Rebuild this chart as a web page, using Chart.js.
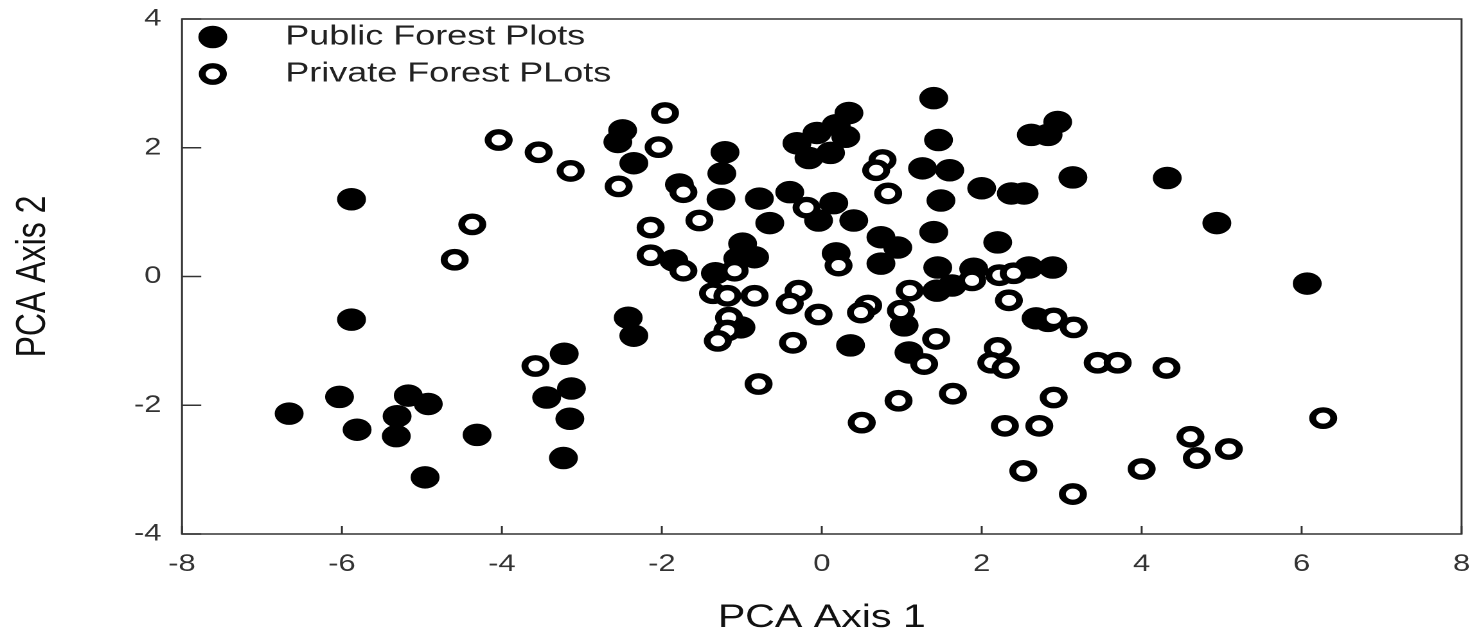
<!DOCTYPE html>
<html>
<head>
<meta charset="utf-8">
<script src="https://cdn.jsdelivr.net/npm/chart.js@4/dist/chart.umd.min.js"></script>
<style>
  html, body { margin: 0; padding: 0; background: #fff; overflow: hidden; }
  #wrap { width: 1473px; height: 634px; overflow: hidden; }
  /* the source picture is stretched sideways, so draw narrow and stretch */
  #pca { transform: scaleX(1.285); transform-origin: 0 0; }
</style>
</head>
<body>
<div id="wrap"><canvas id="pca" width="1151" height="634"></canvas></div>
<script>
const seriesNames = ["Public Forest Plots", "Private Forest PLots"];

const publicX = [-6.66, -6.03, -5.88, -5.88, -5.81, -5.17, -4.92, -5.31, -5.32, -4.31, -4.96,
  -3.22, -3.13, -3.44, -3.15, -3.23,
  -2.42, -2.35, -2.49, -2.55, -2.35, -1.78, -1.85,
  -1.21, -1.25, -1.26, -0.78, -0.40, -0.65, -0.99, -0.84, -1.05, -1.33,
  -0.31, -0.16, -0.06, 0.11, 0.18, 0.30, 0.34,
  1.40, 1.46, 1.26, 1.60, 1.49, 2.00, 2.37, 2.53, 2.62, 2.83, 2.95, 3.14, 4.32, 4.94, 6.07,
  0.15, -0.04, 0.40, 0.74, 0.95, 1.40, 2.20, 0.18, 0.74, 1.45, 1.90, 2.59, 2.89, 1.44, 1.63,
  1.03, 1.09, 0.36, -1.01, 2.68, 2.83];
const publicY = [-2.13, -1.87, 1.20, -0.67, -2.38, -1.85, -1.98, -2.17, -2.48, -2.46, -3.12,
  -1.20, -1.74, -1.88, -2.21, -2.82,
  -0.64, -0.92, 2.27, 2.09, 1.76, 1.43, 0.25,
  1.93, 1.60, 1.20, 1.21, 1.31, 0.83, 0.51, 0.30, 0.28, 0.05,
  2.07, 1.84, 2.23, 1.92, 2.35, 2.17, 2.54,
  2.77, 2.12, 1.68, 1.65, 1.18, 1.37, 1.29, 1.29, 2.20, 2.20, 2.40, 1.54, 1.53, 0.83, -0.11,
  1.14, 0.87, 0.87, 0.61, 0.45, 0.69, 0.53, 0.36, 0.20, 0.14, 0.12, 0.14, 0.14, -0.22, -0.14,
  -0.76, -1.18, -1.07, -0.79, -0.65, -0.69];

const privateX = [-4.04, -3.54, -3.14, -4.37, -4.59, -3.58,
  -1.96, -2.04, -2.54, -1.73, -2.14, -1.53, -2.14, -1.73, -1.09,
  -1.36, -1.18, -0.84, -1.16, -1.18, -1.30, -0.29, -0.40, -0.04, -0.36, -0.79,
  -0.19, 0.76, 0.68, 0.83, 0.21, 1.88, 2.22, 2.40, 1.10, 0.58, 0.49, 0.99, 1.43, 1.28,
  2.34, 2.90, 3.15, 2.20, 2.12, 2.30, 3.45, 3.70, 4.31,
  0.96, 1.64, 2.90, 0.50, 2.29, 2.72, 2.52, 3.14, 4.00, 4.61, 4.69, 5.09, 6.27];
const privateY = [2.12, 1.93, 1.64, 0.81, 0.26, -1.39,
  2.54, 2.01, 1.40, 1.31, 0.76, 0.87, 0.33, 0.09, 0.09,
  -0.26, -0.30, -0.30, -0.64, -0.84, -1.00, -0.22, -0.42, -0.59, -1.03, -1.67,
  1.07, 1.81, 1.65, 1.29, 0.17, -0.06, 0.02, 0.05, -0.22, -0.45, -0.56, -0.53, -0.97, -1.36,
  -0.37, -0.65, -0.79, -1.11, -1.34, -1.42, -1.34, -1.34, -1.42,
  -1.93, -1.82, -1.88, -2.27, -2.32, -2.32, -3.02, -3.38, -2.99, -2.49, -2.82, -2.68, -2.20];

const xTicks = [-8, -6, -4, -2, 0, 2, 4, 6, 8];
const yTicks = [-4, -2, 0, 2, 4];

function toPoints(xs, ys) {
  return xs.map((x, i) => ({ x: x, y: ys[i] }));
}

const filledStyle = { pointRadius: 9.5, borderWidth: 3.5, backgroundColor: '#000', borderColor: '#000' };
const openStyle = { pointRadius: 8.2, borderWidth: 5.4, backgroundColor: '#fff', borderColor: '#000' };

// box round the plot, ticks pointing inwards, legend inside the box
const framePlugin = {
  id: 'frame',
  beforeDatasetsDraw(chart) {
    const { ctx, chartArea: a, scales } = chart;
    ctx.save();
    ctx.strokeStyle = '#333';
    ctx.lineWidth = 1.5;
    ctx.strokeRect(a.left, a.top, a.right - a.left, a.bottom - a.top);
    ctx.beginPath();
    xTicks.forEach(v => {
      const px = scales.x.getPixelForValue(v);
      ctx.moveTo(px, a.bottom);
      ctx.lineTo(px, a.bottom - 8);
    });
    yTicks.forEach(v => {
      const py = scales.y.getPixelForValue(v);
      ctx.moveTo(a.left, py);
      ctx.lineTo(a.left + 15, py);
    });
    ctx.stroke();
    ctx.restore();
  },
  afterDraw(chart) {
    const ctx = chart.ctx;
    const rows = [[filledStyle, 37], [openStyle, 74]];
    ctx.save();
    rows.forEach(([st, y], i) => {
      ctx.beginPath();
      ctx.arc(165.6, y, st.pointRadius, 0, Math.PI * 2);
      ctx.fillStyle = st.backgroundColor;
      ctx.fill();
      ctx.lineWidth = st.borderWidth;
      ctx.strokeStyle = st.borderColor;
      ctx.stroke();
      ctx.fillStyle = '#222';
      ctx.font = '28px "Liberation Sans", Arial, sans-serif';
      ctx.textBaseline = 'middle';
      ctx.textAlign = 'left';
      ctx.fillText(seriesNames[i], 222, y);
    });
    ctx.restore();
  }
};

new Chart(document.getElementById('pca'), {
  type: 'scatter',
  data: {
    datasets: [
      Object.assign({ label: seriesNames[0], data: toPoints(publicX, publicY), order: 1 }, filledStyle),
      Object.assign({ label: seriesNames[1], data: toPoints(privateX, privateY), order: 0 }, openStyle)
    ]
  },
  options: {
    responsive: false,
    animation: false,
    devicePixelRatio: 2,
    layout: { padding: { top: 19, right: 0, bottom: 0, left: 0 } },
    plugins: { legend: { display: false }, tooltip: { enabled: false } },
    scales: {
      x: {
        type: 'linear',
        min: -8, max: 8,
        afterFit: s => { s.height = 100; s.paddingLeft = 0; s.paddingRight = 0; },
        afterBuildTicks: s => { s.ticks = xTicks.map(v => ({ value: v })); },
        grid: { display: false, drawTicks: false },
        border: { display: false },
        ticks: { padding: 16, color: '#333', font: { family: '"Liberation Sans", Arial, sans-serif', size: 24 } },
        title: {
          display: true, text: 'PCA Axis 1', color: '#111',
          font: { family: '"Liberation Sans", Arial, sans-serif', size: 32, lineHeight: 1 },
          padding: { top: 0, bottom: 0 }
        }
      },
      y: {
        type: 'linear',
        min: -4, max: 4,
        afterFit: s => { s.width = 141.6; s.paddingTop = 0; s.paddingBottom = 0; },
        afterBuildTicks: s => { s.ticks = yTicks.map(v => ({ value: v })); },
        grid: { display: false, drawTicks: false },
        border: { display: false },
        ticks: { padding: 16, color: '#333', font: { family: '"Liberation Sans", Arial, sans-serif', size: 24 } },
        title: {
          display: true, text: 'PCA Axis 2', color: '#111',
          font: { family: '"Liberation Sans", Arial, sans-serif', size: 32, lineHeight: 1 },
          padding: { top: 10, bottom: 0 }
        }
      }
    }
  },
  plugins: [framePlugin]
});
</script>
</body>
</html>
